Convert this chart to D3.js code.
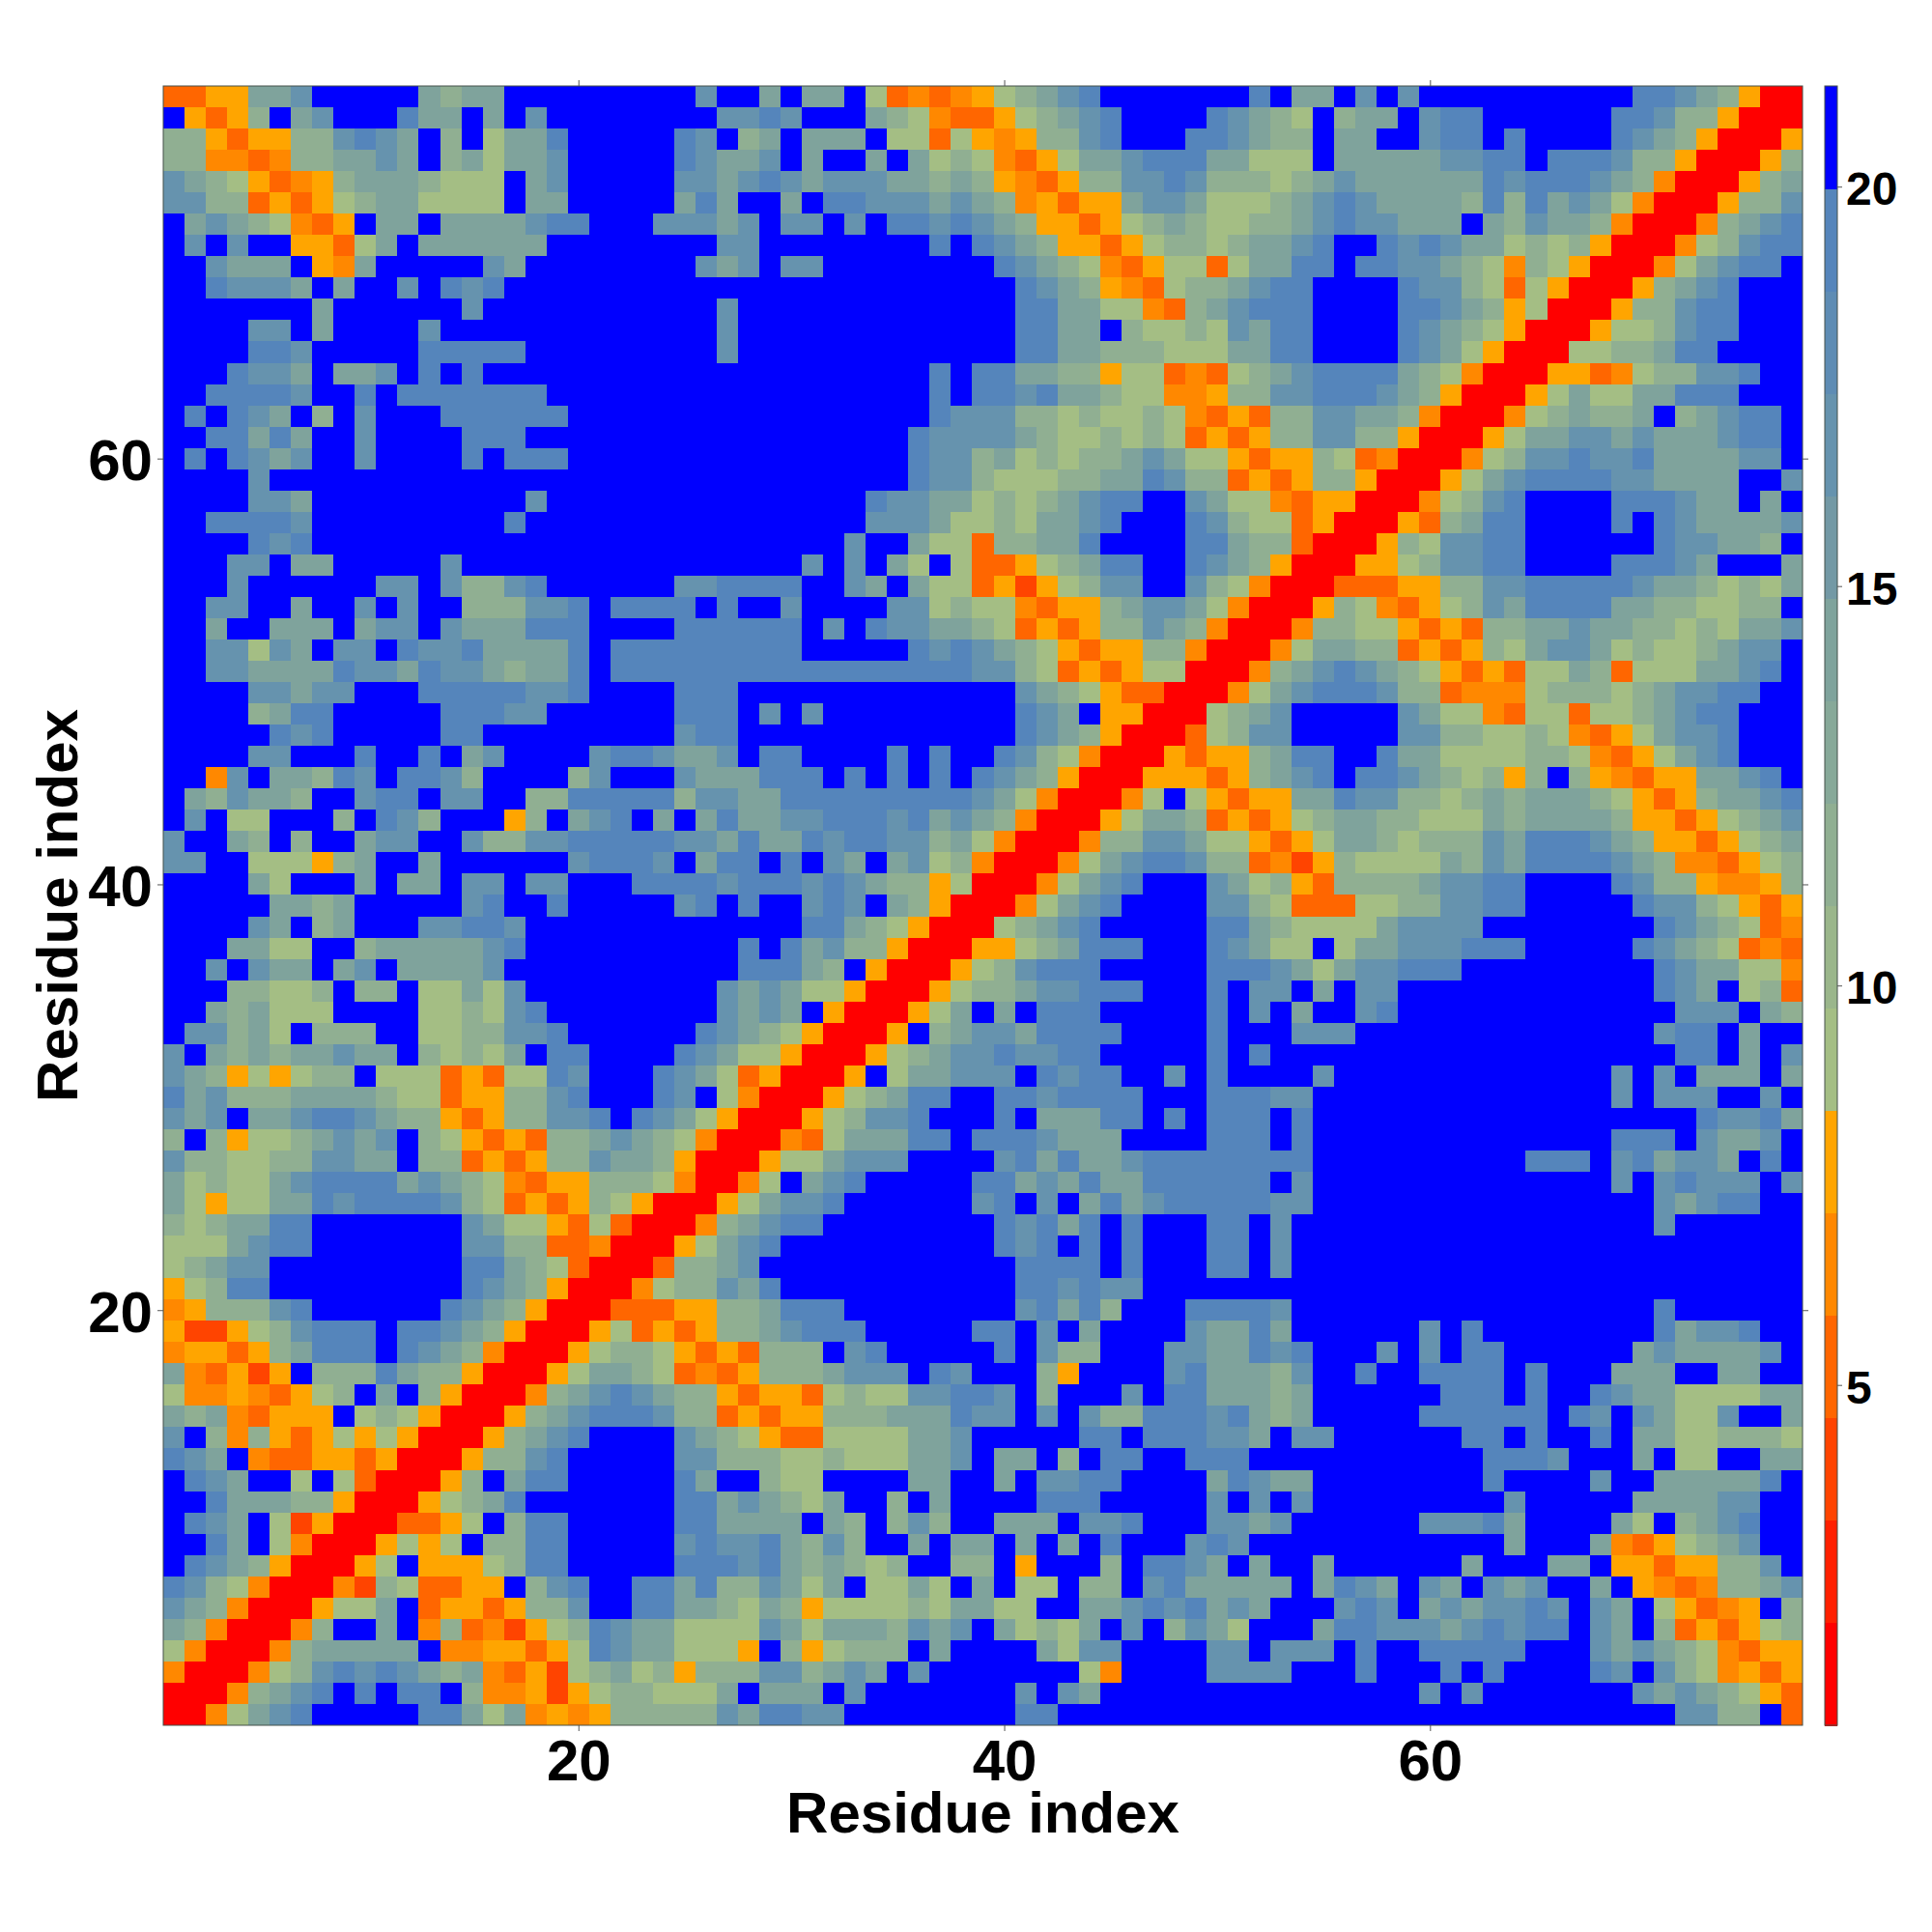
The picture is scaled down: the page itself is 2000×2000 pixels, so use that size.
<!DOCTYPE html>
<html><head><meta charset="utf-8">
<script src="https://cdn.jsdelivr.net/npm/d3@7/dist/d3.min.js"></script>
<style>html,body{margin:0;padding:0;background:#fff}svg{display:block}</style>
</head><body><svg id="c" width="2000" height="2000"></svg>
<script>
// Distance-map rows, top row (residue 77) first.
// Letters name a colour class of the legend; a number repeats the next letter.
const rowsRead = [
"rryyiijBBBBBihii9Bj BBiBiiBgroroyghijk7Bk BiiBjBj10BkkjihyRR",
"ByryhBijBBBkiiBiBjBBBBBBBB jjkjBBBihgorryghijkBBBBkji hgBhiiBjkk6BkkjhhyRRR",
"hhyryyhhjkjiBhBgiikBBBBBkj BhiBiiiBggrgyoyhhjkBBBkkji hhBiiBBjkkBk4BkjihyRRRy",
"hhoorohhiijiBhigiijBBBBBkj iijBiBBiBighgorygiijkkkiig ggBiiiiijjkkBkkkjhhyRRRyh",
"jihgyroyhiiihgggBijBBBBBjj ijkjijjjiihihyoryhhjjkjhhh ghijiiiiiikjkkkjihoRRRyhi",
"jjhhryryghiiggggBiiBBBBBik iBBiBkkjjjijihoyryyijjiggg hijkjiiiihkhkijigoRRRyhhj",
"BijihgoryBiiBiiiijkkBBBjjj ijBjjBjBkkjkjihyyryghihggh hijkjjiiiBihjiihoRRRohijk",
"BjBjBByyrgiBiiiiiiBBBBBBBB jjBBBBBBBBkBkjihyyryghhghi ijkBBkjkjiighghyRRRoghjkk",
"BBjiiiByoiBBBBBjiBBBBBBBBj ijBjjBBBBBBBBkjihgoryggrgi ikkBkkjjihgohgyRRRogijkkB",
"BBkjjjiBiBBjBkjkBBBBBBBBBB 14Bkjihyorghhij kkBBBBkjjhgrgyRRRyhijkBBB",
"BBBBBBBiBBBBBBjBBBBBBBBBBB j13Bkkiiggorhijk kkBBBBkkjihygRRRyhhjkkBBB",
"BBBBjjBiBBBBjBBBBBBBBBBBBB j13BkkiiBhgghgji kkBBBBkjihgyRRRygghjkkBBB",
"BBBBkkjBBBBBkkkkkBBBBBBBBB j13Bkkiihhhgggii kkBBBBkjigyRRRgghhikkBBBB",
"BBBkjjiBiijBkBkBBBBBBBBBBB 10BkBkkiihhyggrorgh ijkkkkihgoRRRyyroghhjjkBB",
"BBkkkkjBBkBkkkkkkkBBBBBBBB 10BkBkkjkiihggooyhh jjkkkjihyRRRygiggiikkkBBB",
"BkBkjiBhBjBBBkkkkkkBBBBBBB 10Bkjjjhhghgghgoryr hhjjiihoRRRoghihhiBhijkkB",
"BBkkikiBBjBBBBkkkBBBBBBBBB 9Bkjjjjihgghghgryry hhjjhhyRRRygiijjijiiijkkB",
"BkBkjijBBjBBBBkBkkkBBBBBBB 9Bkjjhighghhijiggyr yyhgroRRRoghjjkjjkiiiijjB",
"BBBBjBBBBBBBBBBBBBBBBBBBBB 9Bkjjhggghhiikjhhry ryhhyRRRygijkkkkjjiiiiBBj",
"BBBBjjiBBBBBBBBBBjBBBBBBBB 7BkjjiighghijkkBBjigg oryyRRRoghjkBBBBkkkjiiBiB",
"BBkkkkjBBBBBBBBBkBBBBBBBBB 7BjjjigghgiijkBBBkjhg gryRRRyrhikkBBBBkBkjiiiij",
"BBBBkjkBBBBBBBBBBBBBBBBBBB 6BjBBiggrhhiik4Bkkih hrRRRyhgjjkk6BkjjiihB",
"BBBjjBiiBBBBBjBBBBBBBBBBBB 4BjBjBigBgrryghikkBBkjih yRRRyyghjjkkBBBBkkkjiBBBi",
"BBBjBBBBBBjjBjhhjkBBBBBBjj kkkkBBjiBiggryxyghjjBBjhgo RRRrrryyhhjjkkkkkjiihghgi",
"BBjjBBiBBjBjBBhhhjjkBkkkkB kBBjBBBBjjghggoryyhijjigoR RRyhgoryghjikkkkiihhgghhB",
"BBiBBiiiBijjBjiiikkkBBBBkk kkkkBjBkjjiihgryryhhjihoRR Rohhggyryrhhiijiihhghgiij",
"BBjjgjiBjjBkjjkiiiikBkkkkk kkkkBBBBBkjkjihgyryyhhoRRR ogiihhryryhgijjighgghijjB",
"BBjjiiiikjjikjjihiikBkkkkk 12kjjhgryryggRRRo hijkjihgyryrggihrgggiijkB",
"BBBBjjijjBBBkkkkkjjkBBBBkk k13BjihgyrrRRRog ijkkkjhhroooghhhghijjkkBB",
"BBBBhikkBBBBBkkkjjBBBBBBkk kBjBj9BkjiByyRRRghi j5BjiggorggrgghijkkBBB",
"BBBBBkjkBBBBBkkBBBBBBBBBjk k13BkjihyRRRrghj j5BjjhhgghgorygijjkBBB",
"BBBBjjBBBkBBkBijBBBBjkkjii jBkkBBBBkBkBBkjhgoRRRyryyh ikkBBkiigggghhgorygijkBBB",
"BBojBiihkjBkkjhBBBBhjBBBji iikkkBkBkBkBkjihyRRRyyyryh ijkBkkjihghyhBhyoryyiijkB",
"BihjiihBBjkkBjjBBhhkkkkkhj jii9kjigoRRRogBgyry yiikjjhhghihiiihgyryhiijk",
"BjBggBBBhBkjhBBByhBijkBiBi kiijjkkkjkijihoRRRygiihryr yghiihhgggihiiiihyyryghij",
"jBBihBhBBijjBBjhhjjkkkkkjj ikiikjkkjjhigoRRRohhjjiggy rygiihghhhjikkkjihyyryghi",
"jjBBgggyhiBBiBBBBBBjkkkjBi kkBkBjiBijghoRRRogijkkjhhr oxyhggggihjikkkkjihoorygh",
"BBBBigBBBiBiiBjjBjjBBBkkkk jkkkjkjihhygRRRogijkBBBjig hyrhhhhijjkkBBBBkjhhyooyh",
"BBBBBiihiBBBBBjkBBkBBBBBjk BkBBjkjBihyRRRogijkBBBBjjh grrrgghhjjkk5Bkjjhgyry",
"BBBBjiBhiBBBjjkkjBBBBBBBBB BBBBkkihgyRRRghijkBBBBBkki hggggijjjj8Bkjihgro",
"BBBiiggBBhiiiiijkBBBBBBBBB BkBkijhhyRRRyyghikkkBBBkji ggBgiijjjkkk5Bkjihgror",
"BBjBjiiBijBiiiijBBBBBBBBBB BkkkihByRRRyghjkkkBBBBBkkk jigijjkkk9Bkjiiggo",
"BBBhhgghBhhBggigjBBBBBBBBB jijiggyRRRyghhijjkkkBBBkBj jBiBjj12BkjiBghr",
"BBihigggBBBBgghgjkBBBBBBBB jijiByRRRygiBiBkkkBBBBBkBj BiBBjk13BjjjBih",
"BjjhigBhhhBBgghhjjkBBBBBBk jihgyRRRyBhijjikkkkBBBBkBB Bjjj14BjkkBiBB",
"jBihihiijiiBhghgiBkkBBBBkj iggyRRRyghijjkjjkkBBBBBkBk 19BkkBiBj",
"jihygyghhBgggryrggkjBBBkji gryRRRyBgiijjjBkjkkBBjBkBB BBj13BjBjBiiiBi",
"kijhhhiiiihggryyhhjkBBBkjB goRRRyghikkBBkkjkkkkBBBkkk jj14BjBjjjBBjB",
"jijBiijkkjihhyryhhjjkBkjig yRRRyghjjkBBBkBiiikkBkBkkk Bk18Bkjjki",
"hBhygghijijBhgyryrhhijihgo RRRorgiiikkBkkkjiiiBBBBkkk Bk14BkkkBjiijB",
"jhhgghhjjiiBhhryryhhjiihyR RRyggijjjBBBBjkikiijkkkkkk kk10BkkkBjkijjiBkB",
"ighggijkkkkijihgoryyhhhgoR RogBijkBBBBBkkijikiikkkkkk Bj14BjBjkjjjBj",
"igyggiikjkkkkjhgryryhgyRRR ygijjkBBBBBBjkBjBikijkkkkk jj16BjijkkBB",
"hghiikkBBBBBBBjiggyrgrRRRo hijkk8BkjkikBkBBBkkB j17Bj6B",
"gggijkkBBBBBBBjjhhrroRRRyg ijk10BkjkBkBkBBBkkB j24B",
"ghijjBBBBBBBBBkkihgrRRRrhh ij12BkkkkBkBBBkkB j24B",
"yghkkBBBBBBBBBkjihyRRRoghh jik11Bkkjkjj6B 25B",
"oyhhhjkBBBBBBkjihyRRRrrryy hhikkk8BjkikhBBBkkkk j17Bk6B",
"yxxyghjkkkBkkjihyRRRygryry hhijkkk5BkkBjBi4Bjiik i6BjBk8BkijjkBB",
"oyyryhikkkBkjihoRRRyghhgyr yrhhhBjk5BkBjhhBBBjjiik jkBBBjBjBkk6BijiiiijB",
"ioryxyBhhhkihhyRRRygiihgro ryhhhijjjBkjBBBhyBBBBjkiii hjBBkBBkkkkBkBBBiiiBBiiBB",
"gooyoryghBiBhyRRRohijkjihh yryyrghggjjkkjBhBBBjBkkiii hi6BkkkBkBBkjiiggggii",
"ihioryyyBghgyRRRyhijkkkjhh ryryyhhhiiikjjBjBjhhkkkjki hi5B6kBkjBjiggjBBi",
"jBhohyrygygyRRRyhijkBBBBji hgyrrggggiijBBBBBkkBkkkjji Bjj6BkkBkBBkBiigghhhg",
"kjiBorryyryRRRyhhjkBBBBBjj hhhgghgggiijBiiBhBkkBBkkkB 10BkkkjBBBiBggBBii",
"BkjiBBgBgrRRRyhBikkBBBBBki BBhggBBBBiiBBiBjjkkBBBBikj ii8Bk4BjBBiiiiikB",
"BBkiiihhyRRRyghikBBBBBBBkk ijihgiBBhBiBBBBkkkBBBBBjBj Bj9Bj5BiiiijjBB",
"BkjiBgxyRRRrrygBhkkBBBBBkk iiiiBihBhjhBBiiiBjjkBBBjji j6BjjjkiBBBBigBhijkBB",
"BBkiBgoRRRygygBhhkkBBBBBjk jjkihjhBBiBiiBiBiBkBBBjkjB 11BiBBBioryghijBB",
"BkjihyRRRygByyyghkkBBBBBkk kjkihihghBBhhByBBBhBkkjiBi BBi6BiBBBiiByyryyhhjB",
"kjhgoRRRoxhgrryyBhjkBBkkik hhjigiBggigBiBggBhhBjkiiii iBikjiBjiBjijBBiByorohhij",
"jihoRRRyggiBryyryhhjBBkkii hgihygggghgiiggBBiijkjkiji BBBjkjBijijjkjBjiBgyroyBh",
"ihoRRRohBBiBohroxyghkjiigg ggjigiiihjijBighgiBjBhjigB BBikkjjjijkjkkBjiBhryrygh",
"goRRRohiiiiiBooyyrygkjiigg gyBhyghhhBiBBBBigjjBBBBjjB jjjBkBBkkkkkBBBjijihgoryy",
"oRRRoghjkjkjihioryxghighyh hhjjhijiBj7BgoBBBBjjj jBBBkBBBkBk4BkjBjhgoyry",
"RRRohijkBkBkkBhooyxyghhggg iBiiiBj7BjBji8B 7BjBj7Bjijihgyr",
"RRogijkBBBBBkkigioyoyhhhhh jikkjj8Bkk10B 19BjjhhBr"
];

const classLetters = "RsxroygthuiljvkB"; // legend order, closest to farthest
const legendColors = ["#ff0000","#ff2000","#ff4400","#ff6600","#ff8800","#ffa500",
  "#a4be84","#9ab68b","#90af92","#87a999","#7fa39c","#7399a5","#6693ae","#5e8cb4","#5585bb","#0000ff"];
const residues = d3.range(1,78);
const xTicks = [20,40,60], yTicks = [20,40,60], barTicks = [5,10,15,20];
const valueMin = 0.74, valueMax = 21.26;
const axisTitle = "Residue index";

function expand(s){
  return s.replace(/\s+/g,"").replace(/(\d+)(.)/g,(m,n,c)=>c.repeat(+n));
}
const stepV = (valueMax-valueMin)/16;
const matrix = rowsRead.map((s,i)=>{
  const t = expand(s);
  if(t.length!==77) console.error("row",i,"length",t.length);
  return t.split("").map(ch=>valueMin+(classLetters.indexOf(ch)+0.5)*stepV);
});

const L=169,R=1866,T=89,B=1786;
const svg=d3.select("#c");
const x=d3.scaleLinear().domain([0.5,77.5]).range([L,R]);
const y=d3.scaleLinear().domain([0.5,77.5]).range([B,T]);
const color=d3.scaleQuantize().domain([valueMin,valueMax]).range(legendColors);
const font="'Liberation Sans',Arial,sans-serif";

const g=svg.append("g").attr("shape-rendering","crispEdges");
matrix.forEach((row,ri)=>{
  const resY=77-ri;
  g.selectAll(null).data(row).enter().append("rect")
    .attr("x",(d,i)=>x(residues[i]-0.5))
    .attr("y",y(resY+0.5))
    .attr("width",x(1.5)-x(0.5)+0.4)
    .attr("height",y(0.5)-y(1.5)+0.4)
    .attr("fill",d=>color(d));
});
svg.append("rect").attr("x",L).attr("y",T).attr("width",R-L).attr("height",B-T)
  .attr("fill","none").attr("stroke","#44504a").attr("stroke-width",1);

function style(a,size,dy){
  a.select(".domain").remove();
  a.selectAll(".tick line").attr("stroke","#555").attr("stroke-width",1);
  const t=a.selectAll("text").attr("font-family",font).attr("font-weight","bold")
    .attr("font-size",size).attr("fill","#000");
  if(dy) t.attr("dy",dy);
}
style(svg.append("g").attr("transform",`translate(0,${B})`)
  .call(d3.axisBottom(x).tickValues(xTicks).tickSize(6).tickPadding(8).tickSizeOuter(0)),60);
style(svg.append("g").attr("transform",`translate(${L},0)`)
  .call(d3.axisLeft(y).tickValues(yTicks).tickSize(6).tickPadding(5).tickSizeOuter(0)),60,"0.37em");
style(svg.append("g").attr("transform",`translate(0,${T})`)
  .call(d3.axisTop(x).tickValues(xTicks).tickSize(6).tickFormat("").tickSizeOuter(0)),60);
style(svg.append("g").attr("transform",`translate(${R},0)`)
  .call(d3.axisRight(y).tickValues(yTicks).tickSize(6).tickFormat("").tickSizeOuter(0)),60);

svg.append("text").attr("x",(L+R)/2).attr("y",1897).attr("text-anchor","middle")
  .attr("font-family",font).attr("font-weight","bold").attr("font-size",60).text(axisTitle);
svg.append("text").attr("transform",`translate(80,${(T+B)/2}) rotate(-90)`).attr("text-anchor","middle")
  .attr("font-family",font).attr("font-weight","bold").attr("font-size",60).text(axisTitle);

// colour bar
const barL=1889,barR=1902;
const c=d3.scaleLinear().domain([valueMin,valueMax]).range([B,T]);
svg.append("g").attr("shape-rendering","crispEdges").selectAll("rect").data(legendColors).enter().append("rect")
  .attr("x",barL).attr("width",barR-barL)
  .attr("y",(d,i)=>c(valueMin+(i+1)*stepV))
  .attr("height",(d,i)=>c(valueMin+i*stepV)-c(valueMin+(i+1)*stepV)+0.5)
  .attr("fill",d=>d);
svg.append("rect").attr("x",barL).attr("y",T).attr("width",barR-barL).attr("height",B-T)
  .attr("fill","none").attr("stroke","#44504a").attr("stroke-width",1);
style(svg.append("g").attr("transform",`translate(${barR},0)`)
  .call(d3.axisRight(c).tickValues(barTicks).tickSize(5).tickPadding(4).tickSizeOuter(0)),48,"0.39em");
</script></body></html>
